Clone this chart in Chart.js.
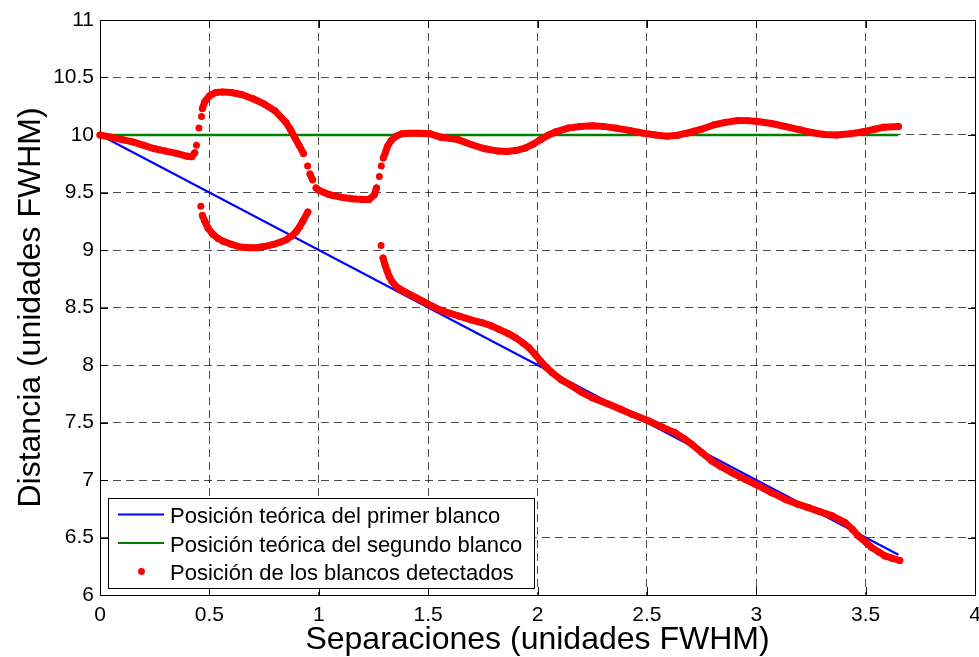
<!DOCTYPE html>
<html>
<head>
<meta charset="utf-8">
<script src="https://cdn.jsdelivr.net/npm/chart.js@4.4.1/dist/chart.umd.min.js"></script>
<style>
  body { margin: 0; background: #fff; }
  canvas { display: block; }
</style>
</head>
<body>
<canvas id="grafica" width="979" height="657"></canvas>
<script>
// posiciones detectadas: rama superior (continua)
const sepUpper = [0, 0.05, 0.10, 0.15, 0.20, 0.25, 0.30, 0.35, 0.40, 0.42, 0.433, 0.441, 0.452, 0.464, 0.468, 0.479,
    0.50, 0.53, 0.56, 0.60, 0.65, 0.70, 0.75, 0.80, 0.85, 0.87, 0.89, 0.91, 0.93, 0.949, 0.96, 0.972, 0.988,
    1.00, 1.05, 1.10, 1.15, 1.20, 1.23, 1.254, 1.264, 1.277, 1.286, 1.295, 1.305, 1.314, 1.33, 1.353, 1.38,
    1.42, 1.46, 1.51, 1.56, 1.636, 1.70, 1.76, 1.82, 1.86, 1.90, 1.943, 1.98, 2.015, 2.05, 2.087, 2.14, 2.195,
    2.25, 2.30, 2.357, 2.42, 2.484, 2.54, 2.592, 2.64, 2.682, 2.75, 2.808, 2.86, 2.916, 2.96, 3.006, 3.07,
    3.133, 3.20, 3.259, 3.31, 3.367, 3.43, 3.493, 3.54, 3.584, 3.65];
const distUpper = [10.00, 9.98, 9.96, 9.94, 9.91, 9.88, 9.86, 9.84, 9.815, 9.81, 9.845, 9.91, 10.06, 10.16, 10.23, 10.29,
    10.34, 10.37, 10.375, 10.37, 10.35, 10.315, 10.27, 10.21, 10.11, 10.05, 9.98, 9.91, 9.84, 9.73, 9.66, 9.61, 9.54,
    9.52, 9.48, 9.46, 9.445, 9.44, 9.44, 9.48, 9.54, 9.64, 9.73, 9.80, 9.85, 9.90, 9.95, 9.99, 10.01,
    10.016, 10.016, 10.01, 9.98, 9.96, 9.915, 9.88, 9.86, 9.857, 9.865, 9.886, 9.92, 9.96, 10.0, 10.03, 10.06, 10.074,
    10.08, 10.075, 10.06, 10.04, 10.016, 10.0, 9.99, 9.998, 10.016, 10.05, 10.089, 10.11, 10.126, 10.125, 10.117, 10.1,
    10.074, 10.045, 10.02, 10.005, 10.0, 10.01, 10.03, 10.05, 10.068, 10.074];

// rama inferior, primer tramo
const sepLow1 = [0.461, 0.468, 0.479, 0.494, 0.517, 0.54, 0.563, 0.60, 0.639, 0.68, 0.715, 0.75, 0.79, 0.82,
    0.852, 0.875, 0.897, 0.912, 0.927, 0.95];
const distLow1 = [9.38, 9.30, 9.25, 9.19, 9.134, 9.10, 9.076, 9.05, 9.027, 9.02, 9.02, 9.03, 9.047, 9.065,
    9.09, 9.12, 9.16, 9.20, 9.25, 9.33];

// rama inferior, segundo tramo
const sepLow2 = [1.285, 1.294, 1.303, 1.313, 1.322, 1.333, 1.353, 1.375, 1.40, 1.44, 1.475, 1.52, 1.566, 1.60,
    1.642, 1.70, 1.748, 1.79, 1.824, 1.865, 1.90, 1.935, 1.961, 1.99, 2.014, 2.04, 2.067, 2.11, 2.158, 2.204,
    2.25, 2.326, 2.38, 2.433, 2.509, 2.57, 2.63, 2.67, 2.706, 2.75, 2.797, 2.84, 2.888, 2.95, 3.01, 3.07,
    3.132, 3.19, 3.238, 3.29, 3.345, 3.406, 3.44, 3.466, 3.50, 3.527, 3.56, 3.588, 3.62, 3.656];
const distLow2 = [9.04, 8.93, 8.87, 8.815, 8.77, 8.73, 8.685, 8.655, 8.63, 8.59, 8.555, 8.51, 8.47, 8.45,
    8.425, 8.39, 8.367, 8.34, 8.31, 8.275, 8.237, 8.19, 8.15, 8.09, 8.034, 7.98, 7.933, 7.87, 7.817, 7.76,
    7.716, 7.658, 7.615, 7.571, 7.513, 7.46, 7.41, 7.36, 7.31, 7.24, 7.166, 7.115, 7.065, 7.005, 6.95, 6.89,
    6.833, 6.79, 6.76, 6.725, 6.69, 6.63, 6.57, 6.515, 6.46, 6.414, 6.375, 6.34, 6.32, 6.30];

// posiciones teoricas
const sepTeo = [0, 3.65];
const distTeo1 = [10, 6.35];
const distTeo2 = [10, 10];

const xTicks = [0, 0.5, 1, 1.5, 2, 2.5, 3, 3.5, 4];
const yTicks = [6, 6.5, 7, 7.5, 8, 8.5, 9, 9.5, 10, 10.5, 11];
const labels = ['Posición teórica del primer blanco', 'Posición teórica del segundo blanco', 'Posición de los blancos detectados'];

const FONT = "'Liberation Sans', Arial, Helvetica, sans-serif";
const RED = '#ff0000', BLUE = '#0000ff', GREEN = '#008000';

function pts(xs, ys) {
    return xs.map((v, i) => ({x: v, y: ys[i]}));
}

// tramos muy inclinados: solo se ven los puntos sueltos
function steepGap(ctx) {
    const dx = Math.abs(ctx.p1.x - ctx.p0.x), dy = Math.abs(ctx.p1.y - ctx.p0.y);
    return (dy > 7 && dy > 2.2 * dx) ? 'rgba(0,0,0,0)' : undefined;
}

function redSet(data, label) {
    return {
        label: label, data: data, showLine: true,
        borderColor: RED, backgroundColor: RED, borderWidth: 7,
        borderCapStyle: 'round', borderJoinStyle: 'round',
        pointRadius: 3.5, pointBorderWidth: 0, pointStyle: 'circle',
        segment: {borderColor: steepGap},
        order: 0, clip: 8, inLegend: !!label
    };
}

const frame = {
    id: 'frame',
    beforeDatasetsDraw(chart) {
        const {ctx, chartArea: a, scales: {x, y}} = chart;
        ctx.save();
        ctx.strokeStyle = '#000';
        ctx.lineWidth = 1;
        ctx.strokeRect(a.left + 0.5, a.top + 0.5, a.right - a.left, a.bottom - a.top);
        const tl = 8;
        ctx.beginPath();
        xTicks.forEach(v => {
            const p = Math.round(x.getPixelForValue(v)) + 0.5;
            ctx.moveTo(p, a.bottom); ctx.lineTo(p, a.bottom - tl);
            ctx.moveTo(p, a.top); ctx.lineTo(p, a.top + tl);
        });
        yTicks.forEach(v => {
            const p = Math.round(y.getPixelForValue(v)) + 0.5;
            ctx.moveTo(a.left, p); ctx.lineTo(a.left + tl, p);
            ctx.moveTo(a.right + 1, p); ctx.lineTo(a.right + 1 - tl, p);
        });
        ctx.stroke();
        ctx.restore();
    }
};

const legendBox = {
    id: 'legendBox',
    afterDatasetsDraw(chart) {
        const ctx = chart.ctx;
        const items = chart.data.datasets.filter(d => d.inLegend);
        const box = {x: 108.5, y: 498.5, w: 426, h: 90};
        ctx.save();
        ctx.fillStyle = '#fff';
        ctx.fillRect(box.x, box.y, box.w, box.h);
        ctx.strokeStyle = '#000';
        ctx.lineWidth = 1;
        ctx.strokeRect(box.x, box.y, box.w, box.h);
        ctx.font = '22px ' + FONT;
        ctx.textBaseline = 'alphabetic';
        items.forEach((d, i) => {
            const yMid = 514.5 + i * 28.5;
            if (d.pointRadius > 0 && d.borderWidth > 3) {
                ctx.fillStyle = d.backgroundColor;
                ctx.beginPath();
                ctx.arc(141.5, yMid, 3.4, 0, Math.PI * 2);
                ctx.fill();
            } else {
                ctx.strokeStyle = d.borderColor;
                ctx.lineWidth = 2;
                ctx.beginPath();
                ctx.moveTo(118, yMid); ctx.lineTo(164, yMid);
                ctx.stroke();
            }
            ctx.fillStyle = '#000';
            ctx.fillText(d.label, 170, yMid + 8.5);
        });
        ctx.restore();
    }
};

new Chart(document.getElementById('grafica'), {
    type: 'scatter',
    data: {
        datasets: [
            {label: labels[0], data: pts(sepTeo, distTeo1), showLine: true, borderColor: BLUE,
                backgroundColor: BLUE, borderWidth: 2, pointRadius: 0, order: 3, inLegend: true},
            {label: labels[1], data: pts(sepTeo, distTeo2), showLine: true, borderColor: GREEN,
                backgroundColor: GREEN, borderWidth: 2.5, pointRadius: 0, order: 4, inLegend: true},
            redSet(pts(sepUpper, distUpper), labels[2]),
            redSet(pts(sepLow1, distLow1), ''),
            redSet(pts(sepLow2, distLow2), '')
        ]
    },
    options: {
        responsive: false,
        animation: false,
        events: [],
        layout: {padding: {top: 20, right: 1, left: 0, bottom: 0}},
        plugins: {legend: {display: false}, tooltip: {enabled: false}},
        scales: {
            x: {
                type: 'linear', min: 0, max: 4,
                afterBuildTicks: s => { s.ticks = xTicks.map(v => ({value: v})); },
                afterFit: s => { s.height = 62; s.paddingLeft = 0; s.paddingRight = 0; },
                ticks: {font: {family: FONT, size: 21}, color: '#000', padding: 8, maxRotation: 0,
                    autoSkip: false, callback: v => String(v)},
                grid: {color: 'rgba(0,0,0,0.7)', lineWidth: 1, drawTicks: false},
                border: {display: false, dash: [8, 5]},
                title: {display: true, text: 'Separaciones (unidades FWHM)', color: '#000',
                    font: {family: FONT, size: 32, lineHeight: 1}, padding: {top: 0, bottom: 1}}
            },
            y: {
                type: 'linear', min: 6, max: 11,
                afterBuildTicks: s => { s.ticks = yTicks.map(v => ({value: v})); },
                afterFit: s => { s.width = 100; s.paddingTop = 0; s.paddingBottom = 0; },
                ticks: {font: {family: FONT, size: 21}, color: '#000', padding: 6,
                    autoSkip: false, callback: v => String(v)},
                grid: {color: 'rgba(0,0,0,0.7)', lineWidth: 1, drawTicks: false},
                border: {display: false, dash: [8, 5]},
                title: {display: true, text: 'Distancia (unidades FWHM)', color: '#000',
                    font: {family: FONT, size: 32, lineHeight: 1}, padding: {top: 15, bottom: 0}}
            }
        }
    },
    plugins: [frame, legendBox]
});
</script>
</body>
</html>
